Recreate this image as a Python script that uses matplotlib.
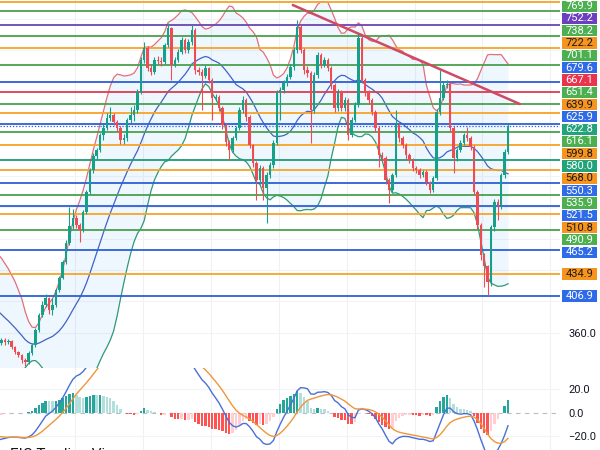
import numpy as np
import pandas as pd
import matplotlib
matplotlib.use("Agg")
import matplotlib.pyplot as plt
from matplotlib.patches import Rectangle
from matplotlib.transforms import blended_transform_factory

# bars left of the visible window, only used to warm up the indicators
warmup_close = [440, 444, 438, 442, 436, 440, 434, 438, 432, 436,
                430, 434, 428, 432, 426, 430, 424, 428, 404, 382,
                366, 358, 354, 356, 350, 354, 348, 352, 346, 347]

close = [350.8, 348.3, 349.6, 341.9, 335.6, 331.7, 325.4, 322.8, 334.3, 344.5,
         363.6, 382.7, 395.4, 404.3, 389.1, 395.4, 414.5, 429.8, 450.2, 474.4,
         496.0, 506.2, 497.3, 491.0, 513.9, 539.3, 567.4, 585.2, 592.8, 612.0,
         620.9, 633.6, 637.4, 628.5, 620.9, 605.6, 608.1, 631.1, 637.4, 643.8,
         666.7, 707.5, 722.8, 697.3, 692.2, 707.5, 706.0, 704.9, 726.6, 748.2,
         701.1, 707.5, 717.7, 733.0, 720.2, 730.4, 745.7, 694.7, 692.0, 687.1,
         697.3, 682.0, 659.1, 660.3, 646.3, 624.7, 603.0, 592.8, 608.1, 620.9,
         643.8, 656.5, 634.9, 599.2, 576.3, 554.6, 569.9, 544.4, 561.0, 573.7,
         601.8, 665.4, 669.3, 678.2, 685.8, 698.6, 720.2, 749.5, 720.2, 694.7,
         690.9, 643.8, 688.4, 713.8, 701.1, 707.5, 697.3, 675.6, 646.3, 666.7,
         646.3, 656.5, 612.0, 631.1, 650.2, 735.5, 682.0, 666.7, 656.5, 641.2,
         620.9, 586.5, 582.7, 554.6, 541.9, 561.0, 624.7, 608.1, 599.2, 586.5,
         580.1, 569.9, 567.4, 561.0, 564.8, 552.1, 541.9, 557.2, 641.2, 659.1,
         675.6, 676.9, 620.9, 582.7, 592.8, 601.8, 612.0, 608.1, 596.7, 539.3,
         497.3, 459.1, 445.1, 424.7, 494.3, 526.6, 522.8, 561.0, 590.3, 622.8]

high = [354, 353, 352, 351, 343, 337, 333, 328, 337, 347,
        366, 385, 400, 409, 406, 404, 417, 432, 453, 478,
        520, 518, 510, 500, 517, 542, 570, 589, 596, 615,
        626, 640, 648, 640, 631, 623, 613, 634, 648, 650,
        670, 711, 730, 725, 702, 711, 712, 711, 729, 755,
        750, 711, 721, 737, 735, 734, 752, 748, 699, 696,
        701, 699, 684, 664, 663, 649, 627, 606, 611, 624,
        647, 661, 659, 637, 601, 579, 574, 572, 565, 577,
        605, 669, 673, 682, 690, 702, 724, 758, 752, 723,
        700, 693, 692, 718, 716, 711, 710, 700, 678, 670,
        669, 660, 659, 635, 654, 742, 738, 685, 669, 659,
        644, 623, 590, 585, 557, 564, 644, 627, 611, 602,
        589, 583, 573, 570, 568, 567, 554, 560, 645, 695,
        679, 682, 679, 623, 596, 605, 615, 622, 611, 599,
        542, 500, 462, 447, 497, 530, 530, 564, 594, 626]

low = [345, 345, 346, 340, 333, 329, 322, 318, 320, 332,
       342, 361, 380, 393, 384, 383, 393, 412, 428, 448,
       472, 492, 494, 476, 489, 511, 537, 564, 582, 590,
       605, 618, 630, 625, 617, 600, 600, 604, 627, 630,
       640, 664, 704, 694, 688, 690, 702, 700, 702, 724,
       682, 698, 705, 715, 716, 717, 727, 690, 688, 644,
       684, 678, 631, 655, 642, 620, 598, 580, 590, 605,
       618, 640, 630, 595, 571, 529, 550, 529, 500, 557,
       570, 599, 631, 665, 675, 683, 695, 717, 716, 690,
       686, 602, 640, 685, 697, 698, 693, 671, 641, 643,
       642, 643, 606, 609, 628, 647, 678, 662, 652, 637,
       616, 571, 578, 550, 525, 539, 558, 603, 595, 582,
       576, 566, 563, 557, 558, 548, 538, 539, 555, 637,
       656, 672, 616, 563, 579, 590, 599, 604, 593, 535,
       492, 453, 418, 408, 420, 490, 504, 518, 557, 588]

# horizontal support / resistance levels drawn on the chart
level_prices = [781.7, 769.9, 752.2, 738.2, 722.2, 701.1, 679.6, 667.1, 651.4, 639.9,
                625.9, 616.1, 599.8, 580.0, 568.0, 550.3, 535.9, 521.5, 510.8, 490.9,
                465.2, 434.9, 406.9]
level_kinds = ["orange", "green", "purple", "green", "orange", "green", "blue", "red", "green", "orange",
               "blue", "green", "orange", "teal", "orange", "blue", "green", "blue", "orange", "green",
               "blue", "orange", "blue"]
level_labeled = [False] + [True] * 22

last_price = 622.8

# hand drawn trendline (bar index, price)
trend_bar = [85.7, 152.5]
trend_price = [777.5, 651.4]

line_colors = {"orange": "#f6a429", "green": "#4a9f4e", "purple": "#6b45b3", "blue": "#2d5fd6",
               "red": "#dd3b4f", "teal": "#1f9a78"}
box_colors = {"orange": "#f7941d", "green": "#4caf50", "purple": "#6c3fc0", "blue": "#2f6be8",
              "red": "#e8344d", "teal": "#22a37a"}

UP = "#15a08a"
DOWN = "#ef4b55"


def spread_labels(prices, gap):
    # push label centres apart so the boxes do not overlap, keeping each group centred
    order = sorted(prices)
    groups = []
    for p in order:
        groups.append([p])
        while len(groups) > 1:
            a, b = groups[-2], groups[-1]
            top_a = np.mean(a) + (len(a) - 1) * gap / 2
            bot_b = np.mean(b) - (len(b) - 1) * gap / 2
            if bot_b - top_a < gap:
                groups[-2] = a + b
                groups.pop()
            else:
                break
    placed = {}
    for g in groups:
        c = np.mean(g)
        for k, p in enumerate(sorted(g)):
            placed[p] = c - (len(g) - 1) * gap / 2 + k * gap
    return placed


def run():
    all_close = pd.Series(warmup_close + close, dtype=float)
    bars = np.arange(-len(warmup_close), len(close))
    n0 = len(warmup_close)

    mid = all_close.rolling(20).mean()
    sd = all_close.rolling(20).std(ddof=0)
    upper = mid + 2 * sd
    lower = mid - 2 * sd

    ema12 = all_close.ewm(span=12, adjust=False).mean()
    ema26 = all_close.ewm(span=26, adjust=False).mean()
    macd = ema12 - ema26
    signal = macd.ewm(span=9, adjust=False).mean()
    hist = macd - signal

    fig = plt.figure(figsize=(6, 4.5), dpi=100)
    plt.rcParams["font.family"] = ["Roboto", "DejaVu Sans"]
    ax = fig.add_axes([0, 82 / 450, 560 / 600, 368 / 450])
    mx = fig.add_axes([0, 0, 560 / 600, 82 / 450])

    xlim = (-0.44, 164.3)
    grid_x = np.arange(21.5, 165, 20)

    # ---- price panel
    ax.set_xlim(*xlim)
    ax.set_ylim(315.2, 783.9)
    for gx in grid_x:
        ax.axvline(gx, color="#eef0f4", lw=0.8, zorder=0)
    for gy in np.arange(360, 781, 40):
        ax.axhline(gy, color="#f2f3f6", lw=0.8, zorder=0)

    ax.fill_between(bars, upper, lower, color="#2196f3", alpha=0.07, lw=0, zorder=1)
    ax.plot(bars, upper, color="#e0707a", lw=0.9, zorder=2)
    ax.plot(bars, mid, color="#3f63c8", lw=0.9, zorder=2)
    ax.plot(bars, lower, color="#2f9a76", lw=0.9, zorder=2)

    for p, kind in zip(level_prices, level_kinds):
        ax.axhline(p, color=line_colors[kind], lw=1.3, zorder=3)
    ax.axhline(last_price, color="#2d5fd6", lw=0.9, ls=(0, (1, 1.5)), zorder=3)

    opens = all_close.shift(1).values[n0:]
    x = np.arange(len(close))
    for i in x:
        o, c = opens[i], close[i]
        col = UP if c >= o else DOWN
        ax.vlines(i, low[i], high[i], color=col, lw=0.8, zorder=4)
        ax.bar(i, max(abs(c - o), 0.9), bottom=min(o, c), width=0.72, color=col, lw=0, zorder=5)

    ax.plot(trend_bar, trend_price, color="#cf4a63", lw=1.8, zorder=6, solid_capstyle="round")

    # price scale labels
    px_per_price = 368 / (783.9 - 315.2)
    labels = [(p, k) for p, k, show in zip(level_prices, level_kinds, level_labeled) if show]
    labels.append((last_price, "teal"))
    pos = spread_labels([p for p, k in labels], 12.3 / px_per_price)
    tr = blended_transform_factory(ax.transAxes, ax.transData)
    box_h = 11.2 / px_per_price
    for p, kind in labels:
        yc = pos[p]
        ax.add_patch(Rectangle((1 + 2 / 560, yc - box_h / 2), 35 / 560, box_h, transform=tr,
                               facecolor=box_colors[kind], edgecolor="none", clip_on=False, zorder=10))
        tc = "#1a1a1a" if kind == "orange" else "white"
        ax.text(1 + 19.5 / 560, yc, "%.1f" % p, transform=tr, ha="center", va="center",
                fontsize=8, color=tc, clip_on=False, zorder=11)

    # regular scale ticks, only where no level label covers them
    ticks = [t for t in np.arange(360, 761, 40)
             if min(abs(t - v) for v in pos.values()) > box_h]
    ax.yaxis.tick_right()
    ax.set_yticks(ticks)
    ax.set_yticklabels(["%.1f" % v for v in ticks])
    ax.tick_params(axis="y", length=0, pad=6, labelsize=8, labelcolor="#131722")
    ax.set_xticks([])
    for s in ax.spines.values():
        s.set_visible(False)

    # ---- MACD panel
    mx.set_xlim(*xlim)
    mx.set_ylim(-32, 38.4)
    for gx in grid_x:
        mx.axvline(gx, color="#eef0f4", lw=0.8, zorder=0)
    for gy in (-20, 20):
        mx.axhline(gy, color="#f2f3f6", lw=0.8, zorder=0)
    mx.axhline(0, color="#b8bcc6", lw=0.8, ls=(0, (4, 4)), zorder=0)

    h = hist.values
    cols = []
    for i in range(len(h)):
        prev = h[i - 1] if i > 0 else h[i]
        if h[i] >= 0:
            cols.append("#26a69a" if h[i] > prev else "#b2dfdb")
        else:
            cols.append("#ff5252" if h[i] < prev else "#ffcdd2")
    mx.bar(bars, h, width=0.72, color=cols, lw=0, zorder=2)
    mx.plot(bars, macd, color="#4a6fd8", lw=1.0, zorder=3)
    mx.plot(bars, signal, color="#f0963a", lw=1.0, zorder=3)

    mx.yaxis.tick_right()
    mx.set_yticks([-20, 0, 20])
    mx.set_yticklabels(["\u221220.0", "0.0", "20.0"])
    mx.tick_params(axis="y", length=0, pad=6, labelsize=8, labelcolor="#131722")
    mx.set_xticks([])
    for s in mx.spines.values():
        s.set_visible(False)

    fig.text(0.017, 2 / 450, "EIC Trading View", fontsize=11, color="#131722", va="top")

    fig.savefig("out.png", dpi=100)


if __name__ == "__main__":
    run()
